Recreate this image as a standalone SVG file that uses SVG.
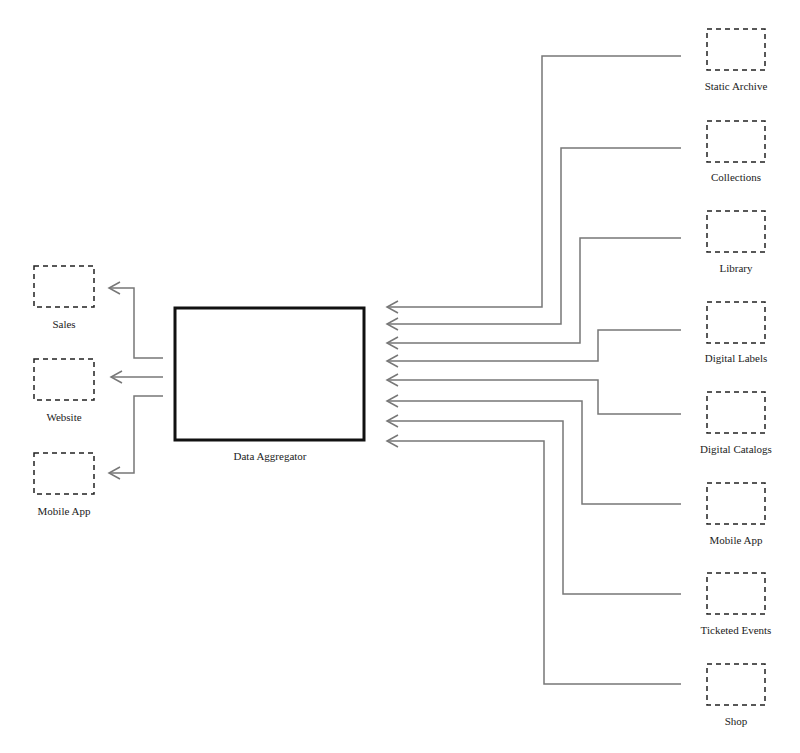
<svg xmlns="http://www.w3.org/2000/svg" width="800" height="753" viewBox="0 0 800 753">
<style>
.n{fill:none;stroke:#222;stroke-width:1.5;stroke-dasharray:5,4}
.t{font-family:'Liberation Serif','DejaVu Serif',serif;font-size:11px;fill:#222;text-anchor:middle}
.c path{fill:none;stroke:#777;stroke-width:1.5}
</style>
<defs><marker id="a" markerWidth="14" markerHeight="14" refX="12" refY="7" orient="auto" markerUnits="userSpaceOnUse"><path d="M1,1 L12,7 L1,13" fill="none" stroke="#777" stroke-width="1.5"/></marker></defs>
<rect width="800" height="753" fill="#fff"/>
<g class="c">
<path d="M163,358 H134 V288 H109" marker-end="url(#a)"/>
<path d="M163,377 H111" marker-end="url(#a)"/>
<path d="M163,396 H134 V473 H109" marker-end="url(#a)"/>
<path d="M681,56 H542 V307 H387" marker-end="url(#a)"/>
<path d="M681,148 H561 V324 H387" marker-end="url(#a)"/>
<path d="M681,238 H580 V343 H387" marker-end="url(#a)"/>
<path d="M681,330 H598 V361 H387" marker-end="url(#a)"/>
<path d="M681,414 H598 V380 H387" marker-end="url(#a)"/>
<path d="M681,504 H582 V401 H387" marker-end="url(#a)"/>
<path d="M681,594 H563 V421 H387" marker-end="url(#a)"/>
<path d="M681,684 H544 V441 H387" marker-end="url(#a)"/>
</g>
<g id="agg"><rect x="175" y="308" width="189" height="132" fill="none" stroke="#111" stroke-width="3"/><text class="t" x="270" y="460">Data Aggregator</text></g>
<g id="sales"><rect class="n" x="34" y="266" width="60" height="41"/><text class="t" x="64" y="328">Sales</text></g>
<g id="website"><rect class="n" x="34" y="359" width="60" height="41"/><text class="t" x="64" y="421">Website</text></g>
<g id="mobile-l"><rect class="n" x="34" y="453" width="60" height="41"/><text class="t" x="64" y="515">Mobile App</text></g>
<g id="r1"><rect class="n" x="707" y="29" width="58" height="41"/><text class="t" x="736" y="90">Static Archive</text></g>
<g id="r2"><rect class="n" x="707" y="121" width="58" height="41"/><text class="t" x="736" y="181">Collections</text></g>
<g id="r3"><rect class="n" x="707" y="211" width="58" height="41"/><text class="t" x="736" y="272">Library</text></g>
<g id="r4"><rect class="n" x="707" y="302" width="58" height="41"/><text class="t" x="736" y="362">Digital Labels</text></g>
<g id="r5"><rect class="n" x="707" y="392" width="58" height="41"/><text class="t" x="736" y="453">Digital Catalogs</text></g>
<g id="r6"><rect class="n" x="707" y="483" width="58" height="41"/><text class="t" x="736" y="544">Mobile App</text></g>
<g id="r7"><rect class="n" x="707" y="573" width="58" height="41"/><text class="t" x="736" y="634">Ticketed Events</text></g>
<g id="r8"><rect class="n" x="707" y="664" width="58" height="41"/><text class="t" x="736" y="725">Shop</text></g>
</svg>
